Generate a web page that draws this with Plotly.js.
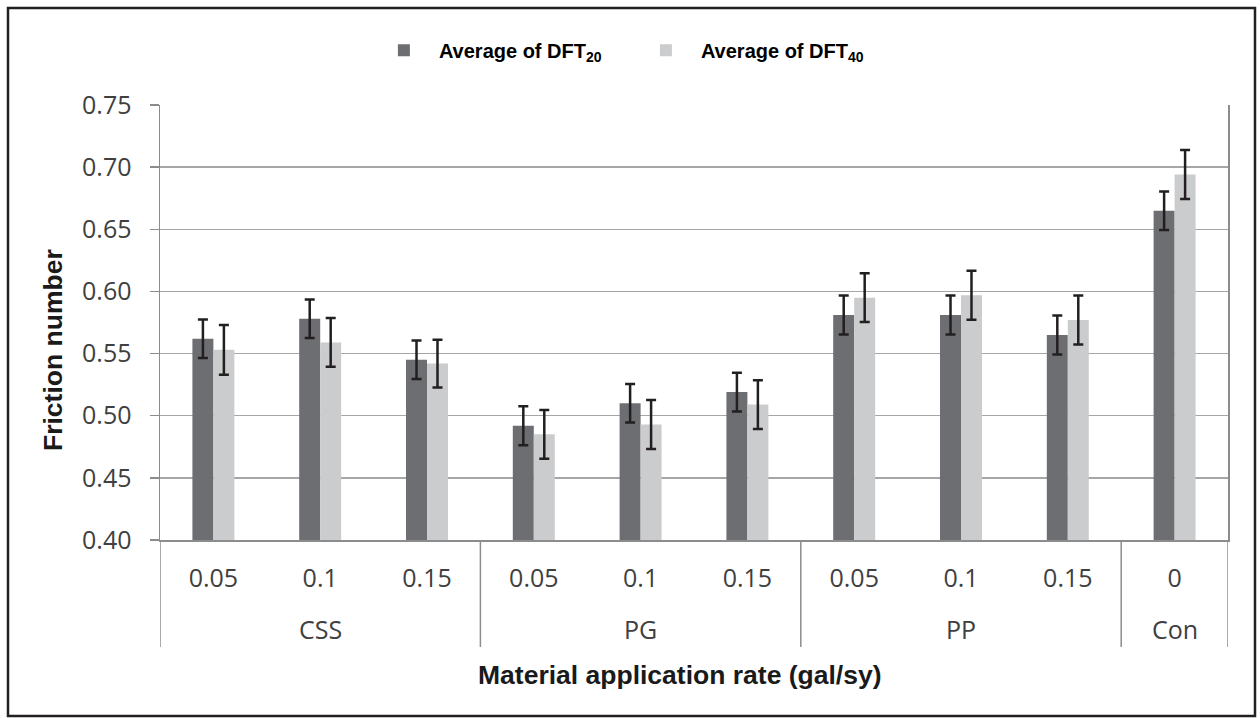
<!DOCTYPE html>
<html>
<head>
<meta charset="utf-8">
<script src="https://cdn.plot.ly/plotly-3.0.1.min.js"></script>
<style>
  html, body { margin: 0; padding: 0; background: #ffffff; }
  #chart { width: 1260px; height: 718px; }
</style>
</head>
<body>
<div id="chart"></div>
<script>
// Material groups and application rates (gal/sy)
const groups = ["CSS", "CSS", "CSS", "PG", "PG", "PG", "PP", "PP", "PP", "Con"];
const rates  = ["0.05", "0.1", "0.15", "0.05", "0.1", "0.15", "0.05", "0.1", "0.15", "0"];

// Mean friction numbers at 20 and 40 km/h
const dft20 = [0.562, 0.578, 0.545, 0.492, 0.510, 0.519, 0.581, 0.581, 0.565, 0.665];
const dft40 = [0.553, 0.559, 0.542, 0.485, 0.493, 0.509, 0.595, 0.597, 0.577, 0.694];

// Error bar half-lengths
const err20 = [0.0155, 0.0155, 0.0155, 0.0157, 0.0155, 0.0156, 0.0157, 0.0157, 0.0157, 0.0155];
const err40 = [0.0200, 0.0197, 0.0192, 0.0196, 0.0197, 0.0196, 0.0196, 0.0197, 0.0197, 0.0197];

const seriesNames = ["Average of DFT<sub>20</sub>", "Average of DFT<sub>40</sub>"];

// One slot per application rate along the x axis
const slots = rates.map((_, i) => i);

// Group spans: label at the middle of each run, dividers at its edges
const groupSpans = [];
groups.forEach((g, i) => {
  const last = groupSpans[groupSpans.length - 1];
  if (last && last.name === g) last.end = i;
  else groupSpans.push({ name: g, start: i, end: i });
});

// Pixel geometry of the plot area
const W = 1260, H = 718;
const M = { l: 160, r: 32, t: 105, b: 178 };
const plotW = W - M.l - M.r;
const plotH = H - M.t - M.b;
const px2x = px => (px - M.l) / plotW;
const px2y = py => (H - M.b - py) / plotH;

const errStyle = { type: "data", visible: true, color: "#231f20", thickness: 2.5, width: 5 };

const traces = [
  {
    type: "bar",
    name: seriesNames[0],
    x: slots,
    y: dft20,
    marker: { color: "#6d6e71" },
    error_y: Object.assign({ array: err20 }, errStyle)
  },
  {
    type: "bar",
    name: seriesNames[1],
    x: slots,
    y: dft40,
    marker: { color: "#cbcccd" },
    error_y: Object.assign({ array: err40 }, errStyle)
  }
];

const tickFont = { family: "Open Sans, DejaVu Sans, sans-serif", size: 25, color: "#404040" };
const titleFont = { family: "Liberation Sans, Arial, sans-serif", size: 26.5, color: "#1a1a1a", weight: "bold" };
const lineGray = "#8c8c8c";

const annotations = groupSpans.map(s => ({
  text: s.name,
  xref: "x",
  yref: "paper",
  x: (s.start + s.end) / 2,
  y: px2y(629),
  xanchor: "center",
  yanchor: "middle",
  showarrow: false,
  font: tickFont
}));

annotations.push({
  text: "Material application rate (gal/sy)",
  xref: "paper",
  yref: "paper",
  x: px2x(680),
  y: px2y(675),
  xanchor: "center",
  yanchor: "middle",
  showarrow: false,
  font: titleFont
});

annotations.push({
  text: "Friction number",
  xref: "paper",
  yref: "paper",
  x: px2x(53),
  y: px2y(350),
  xanchor: "center",
  yanchor: "middle",
  textangle: -90,
  showarrow: false,
  font: titleFont
});

// Vertical dividers under the axis, at every group edge
const edges = [groupSpans[0].start - 0.5].concat(groupSpans.map(s => s.end + 0.5));
const shapes = edges.map(e => ({
  type: "line",
  xref: "x",
  yref: "paper",
  x0: e,
  x1: e,
  y0: px2y(647),
  y1: 0,
  line: { color: lineGray, width: 1.5 }
}));

// Frame around the whole figure
shapes.push({
  type: "rect",
  xref: "paper",
  yref: "paper",
  x0: px2x(8),
  x1: px2x(1255),
  y0: px2y(716),
  y1: px2y(8),
  line: { color: "#231f20", width: 2.5 },
  fillcolor: "rgba(0,0,0,0)",
  layer: "below"
});

const layout = {
  width: W,
  height: H,
  paper_bgcolor: "#ffffff",
  plot_bgcolor: "#ffffff",
  margin: M,
  barmode: "group",
  bargap: 0.607,
  bargroupgap: 0,
  showlegend: true,
  legend: {
    orientation: "h",
    x: 0.1956,
    xanchor: "left",
    y: 1.126,
    yanchor: "middle",
    font: { family: "Liberation Sans, Arial, sans-serif", size: 20, color: "#000000", weight: "bold" },
    itemwidth: 60,
    entrywidth: 187,
    bgcolor: "rgba(0,0,0,0)"
  },
  xaxis: {
    type: "linear",
    range: [-0.5, rates.length - 0.5],
    tickmode: "array",
    tickvals: slots,
    ticktext: rates,
    tickfont: tickFont,
    ticks: "",
    ticklabelstandoff: 15,
    showgrid: false,
    zeroline: false,
    showline: true,
    linecolor: lineGray,
    linewidth: 1.5
  },
  yaxis: {
    range: [0.40, 0.75],
    dtick: 0.05,
    tick0: 0.40,
    tickformat: ".2f",
    tickfont: tickFont,
    showgrid: true,
    gridcolor: "#a6a6a6",
    gridwidth: 1.5,
    showline: true,
    mirror: true,
    linecolor: lineGray,
    linewidth: 1.5,
    ticks: "outside",
    ticklen: 9,
    tickcolor: lineGray,
    tickwidth: 1.5,
    ticklabelstandoff: 13,
    zeroline: false
  },
  annotations: annotations,
  shapes: shapes
};

Plotly.newPlot("chart", traces, layout, { displayModeBar: false, staticPlot: true });
</script>
</body>
</html>
